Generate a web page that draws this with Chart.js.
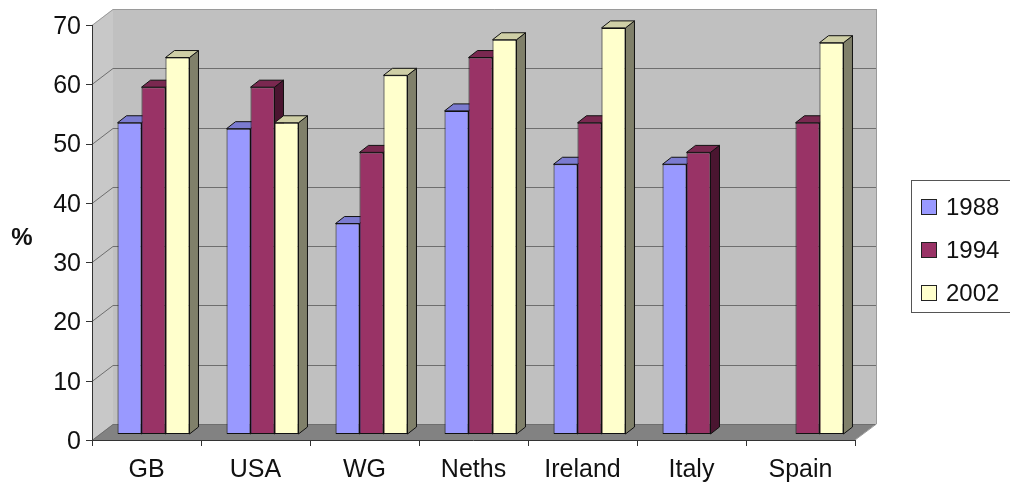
<!DOCTYPE html>
<html>
<head>
<meta charset="utf-8">
<script src="https://cdn.jsdelivr.net/npm/chart.js@4.4.1/dist/chart.umd.min.js"></script>
<style>
  html, body { margin: 0; padding: 0; background: #fff; }
  #wrap { width: 1010px; height: 488px; }
</style>
</head>
<body>
<div id="wrap"><canvas id="chart" width="1010" height="488"></canvas></div>
<script>
// DATA
const categories = ["GB", "USA", "WG", "Neths", "Ireland", "Italy", "Spain"];
const years = ["1988", "1994", "2002"];
const values1988 = [52.5, 51.5, 35.5, 54.5, 45.5, 45.5, null];
const values1994 = [58.5, 58.5, 47.5, 63.5, 52.5, 47.5, 52.5];
const values2002 = [63.5, 52.5, 60.5, 66.5, 68.5, null, 66];
const yTicks = [0, 10, 20, 30, 40, 50, 60, 70];

// COLOURS (front, side, top)
const fills = ["#9999ff", "#993366", "#ffffcc"];
const sides = ["#5c5ca8", "#4a1530", "#80806a"];
const tops = ["#7b7bd0", "#7a2850", "#cfcfa6"];

const FONT = '"Liberation Sans", Arial, sans-serif';

// 3D look: bar plane -> front axis plane -> back wall
const FX = -7, FY = 6;     // front plane offset from the bar plane
const WX = 21, WY = -16;   // back wall offset from the front plane
const BX = 9, BY = -7;     // bar depth

const box3d = {
  id: "box3d",
  beforeDatasetsDraw(chart) {
    const { ctx, chartArea: a, scales: { x, y } } = chart;
    const fl = a.left + FX, fr = a.right + FX;
    const f0 = y.getPixelForValue(0) + FY;
    const fTop = y.getPixelForValue(70) + FY;

    ctx.save();
    // back wall
    ctx.fillStyle = "#c0c0c0";
    ctx.fillRect(fl + WX, fTop + WY, fr - fl, f0 - fTop);
    // left wall
    ctx.fillStyle = "#c8c8c8";
    ctx.beginPath();
    ctx.moveTo(fl, f0); ctx.lineTo(fl, fTop);
    ctx.lineTo(fl + WX, fTop + WY); ctx.lineTo(fl + WX, f0 + WY);
    ctx.closePath(); ctx.fill();
    // floor
    ctx.fillStyle = "#828282";
    ctx.beginPath();
    ctx.moveTo(fl, f0); ctx.lineTo(fr, f0);
    ctx.lineTo(fr + WX, f0 + WY); ctx.lineTo(fl + WX, f0 + WY);
    ctx.closePath(); ctx.fill();

    // grid lines
    ctx.strokeStyle = "#6e6e6e";
    ctx.lineWidth = 1;
    yTicks.forEach((v) => {
      const yf = Math.round(y.getPixelForValue(v) + FY) + 0.5;
      ctx.strokeStyle = v === 70 ? "#9a9a9a" : "#6e6e6e";
      ctx.beginPath();
      ctx.moveTo(fl, yf);
      ctx.lineTo(fl + WX, yf + WY);
      ctx.lineTo(fr + WX, yf + WY);
      ctx.stroke();
    });
    ctx.strokeStyle = "#9a9a9a";
    ctx.beginPath();
    ctx.moveTo(fr + WX + 0.5, fTop + WY);
    ctx.lineTo(fr + WX + 0.5, f0 + WY);
    ctx.lineTo(fr, f0);
    ctx.stroke();

    // axes
    ctx.strokeStyle = "#333";
    ctx.beginPath();
    ctx.moveTo(fl + 0.5, fTop); ctx.lineTo(fl + 0.5, f0 + 0.5);
    ctx.lineTo(fr, f0 + 0.5);
    yTicks.forEach((v) => {
      const yf = Math.round(y.getPixelForValue(v) + FY) + 0.5;
      ctx.moveTo(fl - 6, yf); ctx.lineTo(fl, yf);
    });
    const n = categories.length;
    for (let i = 0; i <= n; i++) {
      const xf = Math.round(fl + (i * (fr - fl)) / n) + 0.5;
      ctx.moveTo(xf, f0); ctx.lineTo(xf, f0 + 6);
    }
    ctx.stroke();

    // bar sides, then tops (front faces are drawn by Chart.js)
    const bars = [];
    chart.data.datasets.forEach((ds, di) => {
      chart.getDatasetMeta(di).data.forEach((el, j) => {
        if (ds.data[j] == null) return;
        const p = el.getProps(["x", "y", "base", "width"], true);
        bars.push({ di, l: p.x - p.width / 2, r: p.x + p.width / 2, t: p.y, b: p.base });
      });
    });
    ctx.strokeStyle = "#111";
    bars.forEach((b) => {
      ctx.fillStyle = sides[b.di];
      ctx.beginPath();
      ctx.moveTo(b.r, b.t); ctx.lineTo(b.r + BX, b.t + BY);
      ctx.lineTo(b.r + BX, b.b + BY); ctx.lineTo(b.r, b.b);
      ctx.closePath(); ctx.fill(); ctx.stroke();
    });
    bars.forEach((b) => {
      ctx.fillStyle = tops[b.di];
      ctx.beginPath();
      ctx.moveTo(b.l, b.t); ctx.lineTo(b.l + BX, b.t + BY);
      ctx.lineTo(b.r + BX, b.t + BY); ctx.lineTo(b.r, b.t);
      ctx.closePath(); ctx.fill(); ctx.stroke();
    });
    ctx.restore();
  },
  afterDraw(chart) {
    const { ctx } = chart;
    ctx.save();
    // "%" axis title
    ctx.fillStyle = "#111";
    ctx.font = "bold 24px " + FONT;
    ctx.textAlign = "center";
    ctx.textBaseline = "middle";
    ctx.fillText("%", 22, 238);

    // legend
    ctx.fillStyle = "#fff";
    ctx.strokeStyle = "#555";
    ctx.lineWidth = 1;
    ctx.fillRect(911.5, 180.5, 110, 132);
    ctx.strokeRect(911.5, 180.5, 110, 132);
    ctx.font = "24px " + FONT;
    ctx.textAlign = "left";
    chart.data.datasets.forEach((ds, i) => {
      const cy = 207 + i * 43;
      ctx.fillStyle = fills[i];
      ctx.fillRect(921.5, cy - 7.5, 15, 15);
      ctx.strokeStyle = "#222";
      ctx.strokeRect(921.5, cy - 7.5, 15, 15);
      ctx.fillStyle = "#111";
      ctx.fillText(ds.label, 946, cy + 1);
    });
    ctx.restore();
  },
};

new Chart(document.getElementById("chart"), {
  type: "bar",
  data: {
    labels: categories,
    datasets: [
      { label: years[0], data: values1988, backgroundColor: fills[0] },
      { label: years[1], data: values1994, backgroundColor: fills[1] },
      { label: years[2], data: values2002, backgroundColor: fills[2] },
    ],
  },
  options: {
    responsive: false,
    animation: false,
    layout: { padding: { top: 19, right: 148, left: 0, bottom: 0 } },
    datasets: {
      bar: {
        categoryPercentage: 0.66,
        barPercentage: 1,
        borderColor: "#111",
        borderWidth: 1,
        borderSkipped: false,
      },
    },
    plugins: { legend: { display: false }, tooltip: { enabled: false } },
    scales: {
      x: {
        grid: { display: false, drawTicks: false },
        border: { display: false },
        ticks: { color: "#111", font: { family: FONT, size: 25 }, padding: 21, labelOffset: -7 },
        afterFit: (s) => { s.height = 54; s.paddingLeft = 0; s.paddingRight = 0; },
      },
      y: {
        min: 0,
        max: 70,
        afterBuildTicks: (s) => { s.ticks = yTicks.map((v) => ({ value: v })); },
        grid: { display: false, drawTicks: false },
        border: { display: false },
        ticks: { color: "#111", font: { family: FONT, size: 25 }, padding: 18, labelOffset: 8 },
        afterFit: (s) => { s.width = 99; s.paddingTop = 0; s.paddingBottom = 0; },
      },
    },
  },
  plugins: [box3d],
});
</script>
</body>
</html>
